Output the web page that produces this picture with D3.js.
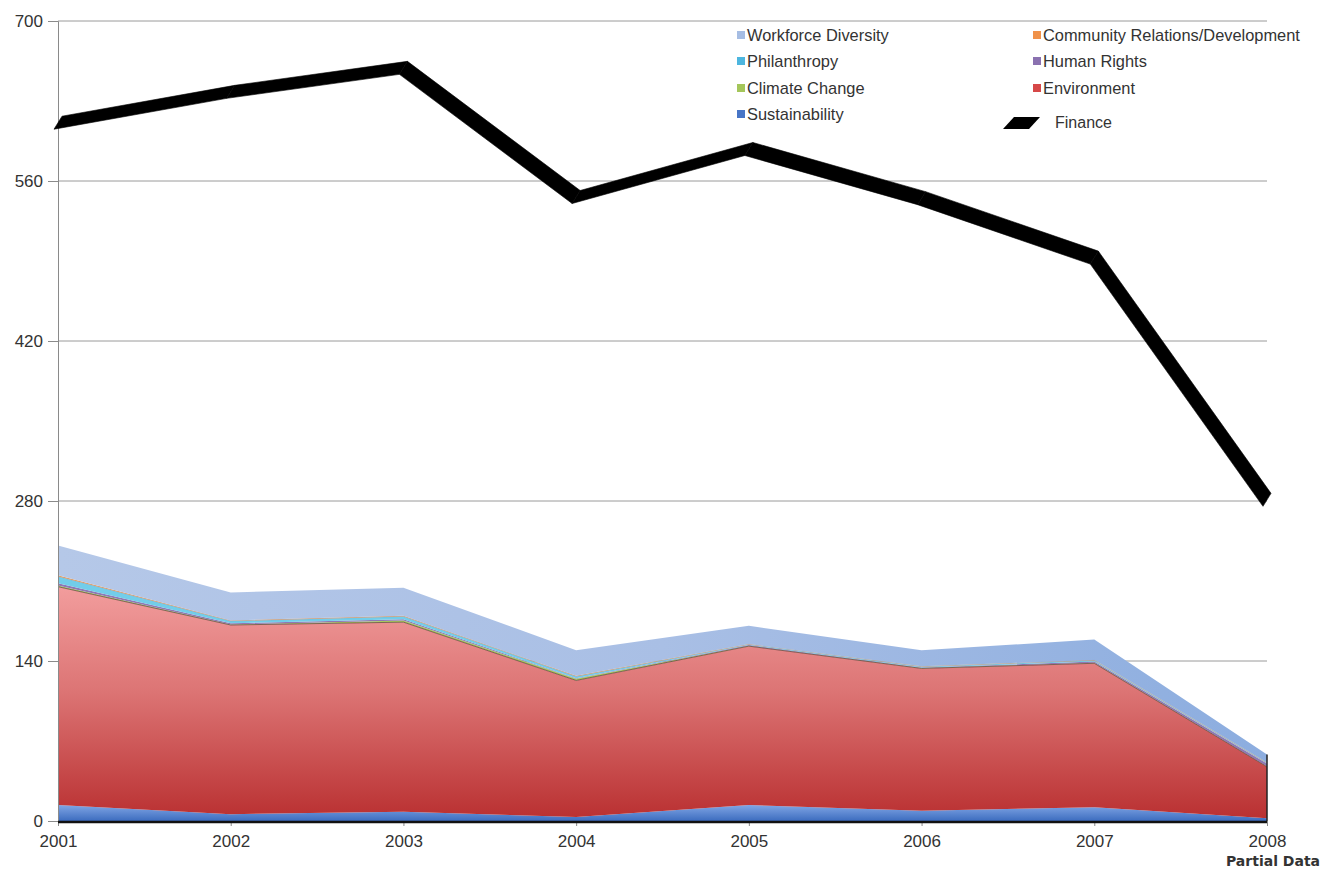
<!DOCTYPE html>
<html><head><meta charset="utf-8">
<script src="https://cdn.jsdelivr.net/npm/d3@7"></script>
<style>
html,body{margin:0;padding:0;background:#fff;}
svg{display:block;}
text{font-family:"Liberation Sans",Arial,Helvetica,sans-serif;fill:#333;}
</style></head>
<body>
<svg id="chart" width="1332" height="869"></svg>
<script>
// ---- data ----
const years = ["2001","2002","2003","2004","2005","2006","2007","2008"];
const sustainability = [14, 6, 8, 3.5, 14, 9, 12, 2.5];
const environment    = [191, 165.5, 166, 119.5, 139, 124.5, 126, 45];
const climateChange  = [1, 0.5, 1.5, 1.5, 0.3, 0.3, 0.5, 0.3];
const humanRights    = [2, 1, 1, 0.5, 0.7, 0.5, 1, 2.5];
const philanthropy   = [6, 2, 2.5, 1.5, 0.5, 0.7, 1, 0.5];
const communityRel   = [1, 0.5, 0.5, 0.5, 0.3, 0.3, 0.3, 0.3];
const workforceDiv   = [26, 24.5, 24.5, 22.5, 16, 14, 18, 7];
const finance        = [611, 638, 659, 546, 588, 545, 493, 281];
const yTicks = [0, 140, 280, 420, 560, 700];
const seriesNames = ["Sustainability","Environment","Climate Change","Human Rights","Philanthropy","Community Relations/Development","Workforce Diversity"];
const legendOrder = ["Workforce Diversity","Community Relations/Development","Philanthropy","Human Rights","Climate Change","Environment","Sustainability"];

// ---- setup ----
const svg = d3.select("#chart");
const L = 58, R = 1267, T = 21, B = 821;
const x = d3.scalePoint().domain(years).range([L, R]);
const y = d3.scaleLinear().domain([0, 700]).range([B, T]);

const table = years.map((yr, i) => ({
  year: yr,
  "Sustainability": sustainability[i],
  "Environment": environment[i],
  "Climate Change": climateChange[i],
  "Human Rights": humanRights[i],
  "Philanthropy": philanthropy[i],
  "Community Relations/Development": communityRel[i],
  "Workforce Diversity": workforceDiv[i]
}));
const stacked = d3.stack().keys(seriesNames)(table);

const defs = svg.append("defs");
function vGrad(id, stops, y1, y2) {
  const g = defs.append("linearGradient").attr("id", id).attr("gradientUnits", "userSpaceOnUse")
    .attr("x1", 0).attr("x2", 0).attr("y1", y1).attr("y2", y2);
  stops.forEach(s => g.append("stop").attr("offset", s[0]).attr("stop-color", s[1]));
}
function hGrad(id, stops) {
  const g = defs.append("linearGradient").attr("id", id).attr("gradientUnits", "userSpaceOnUse")
    .attr("x1", L).attr("x2", R).attr("y1", 0).attr("y2", 0);
  stops.forEach(s => g.append("stop").attr("offset", s[0]).attr("stop-color", s[1]));
}
const envTop = y(d3.max(stacked[1], d => d[1]));
vGrad("gEnv", [[0, "#f29d9d"], [0.45, "#dc7474"], [1, "#b92f30"]], envTop, B);
vGrad("gSus", [[0, "#8aaeea"], [1, "#3c6cbf"]], y(16), B);
hGrad("gWD", [[0, "#b5c8e8"], [0.5, "#a9bfe5"], [1, "#8caddf"]]);

const fills = {
  "Sustainability": "url(#gSus)",
  "Environment": "url(#gEnv)",
  "Climate Change": "#a9cd5c",
  "Human Rights": "#8f78b4",
  "Philanthropy": "#72cdea",
  "Community Relations/Development": "#f2a25c",
  "Workforce Diversity": "url(#gWD)"
};
const swatch = {
  "Workforce Diversity": "#a6bde3",
  "Community Relations/Development": "#f0924a",
  "Philanthropy": "#4db6df",
  "Human Rights": "#8a71b0",
  "Climate Change": "#a4c65a",
  "Environment": "#d64848",
  "Sustainability": "#4775c6"
};

// ---- gridlines ----
svg.append("g").selectAll("line").data(yTicks.filter(v => v > 0)).join("line")
  .attr("x1", L).attr("x2", R).attr("y1", d => y(d)).attr("y2", d => y(d))
  .attr("stroke", "#9a9a9a").attr("stroke-width", 1);

// ---- areas ----
const area = d3.area().x(d => x(d.data.year)).y0(d => y(d[0])).y1(d => y(d[1]));
svg.append("g").selectAll("path").data(stacked).join("path")
  .attr("d", area).attr("fill", d => fills[d.key]);

// thin dark edge on top of environment
svg.append("path").datum(stacked[1])
  .attr("d", d3.line().x(d => x(d.data.year)).y(d => y(d[1])))
  .attr("fill", "none").attr("stroke", "#5b3a3a").attr("stroke-width", 1).attr("stroke-opacity", 0.7);
// subtle edge of philanthropy
svg.append("path").datum(stacked[4])
  .attr("d", d3.line().x(d => x(d.data.year)).y(d => y(d[1])))
  .attr("fill", "none").attr("stroke", "#7a8ea8").attr("stroke-width", 0.6).attr("stroke-opacity", 0.6);
// right side edge of the stack
const last = years.length - 1;
svg.append("line").attr("x1", x(years[last])).attr("x2", x(years[last]))
  .attr("y1", y(stacked[6][last][1])).attr("y2", B)
  .attr("stroke", "#222").attr("stroke-width", 1.5);

// ---- axes ----
const yAxis = d3.axisLeft(y).tickValues(yTicks).tickSize(10).tickPadding(5);
const gy = svg.append("g").attr("transform", `translate(${L},0)`).call(yAxis);
gy.select(".domain").attr("stroke", "#8a8a8a");
gy.selectAll(".tick line").attr("stroke", "#8a8a8a");
gy.selectAll(".tick text").style("font-size", "17px").attr("fill", "#333");

const xAxis = d3.axisBottom(x).tickSize(5).tickPadding(9);
const gx = svg.append("g").attr("transform", `translate(0,${B})`).call(xAxis);
gx.select(".domain").remove();
gx.selectAll(".tick line").attr("stroke", "#8a8a8a");
gx.selectAll(".tick text").style("font-size", "17px").attr("fill", "#333");
svg.append("line").attr("x1", L).attr("x2", R).attr("y1", B + 1).attr("y2", B + 1)
  .attr("stroke", "#111").attr("stroke-width", 2.5);

svg.append("text").attr("x", x(years[last]) + 6).attr("y", 866).attr("text-anchor", "middle")
  .style("font-family", "'DejaVu Sans',Verdana,sans-serif").style("font-weight", "bold")
  .style("font-size", "14px").attr("fill", "#111").text("Partial Data");

// ---- finance ribbon (3D-like line) ----
const depth = [8, -13];
const fpts = finance.map((v, i) => [x(years[i]) - depth[0] / 2, y(v) - depth[1] / 2]);
const ribbon = d3.pairs(fpts).map(([a, b]) => [a, b, [b[0] + depth[0], b[1] + depth[1]], [a[0] + depth[0], a[1] + depth[1]]]);
svg.append("g").selectAll("path").data(ribbon).join("path")
  .attr("d", d => "M" + d.map(p => p.join(",")).join("L") + "Z")
  .attr("fill", "#000").attr("stroke", "#000").attr("stroke-width", 0.6).attr("stroke-linejoin", "round");

// ---- legend ----
const leg = svg.append("g");
const colX = [737, 1033], rowY = [35, 61, 88, 114];
legendOrder.forEach((name, i) => {
  const cx = colX[i % 2], cy = rowY[Math.floor(i / 2)];
  leg.append("rect").attr("x", cx).attr("y", cy - 4).attr("width", 8).attr("height", 8).attr("fill", swatch[name]);
  leg.append("text").attr("x", cx + 10).attr("y", cy + 6).style("font-size", "16.4px").attr("fill", "#333").text(name);
});
// finance legend swatch
const sw = [[1003, 129], [1029, 129], [1040, 117], [1014, 117]];
leg.append("path").attr("d", "M" + sw.map(p => p.join(",")).join("L") + "Z").attr("fill", "#000");
leg.append("text").attr("x", 1055).attr("y", 128).style("font-size", "16px").attr("fill", "#333").text("Finance");
</script>
</body></html>
